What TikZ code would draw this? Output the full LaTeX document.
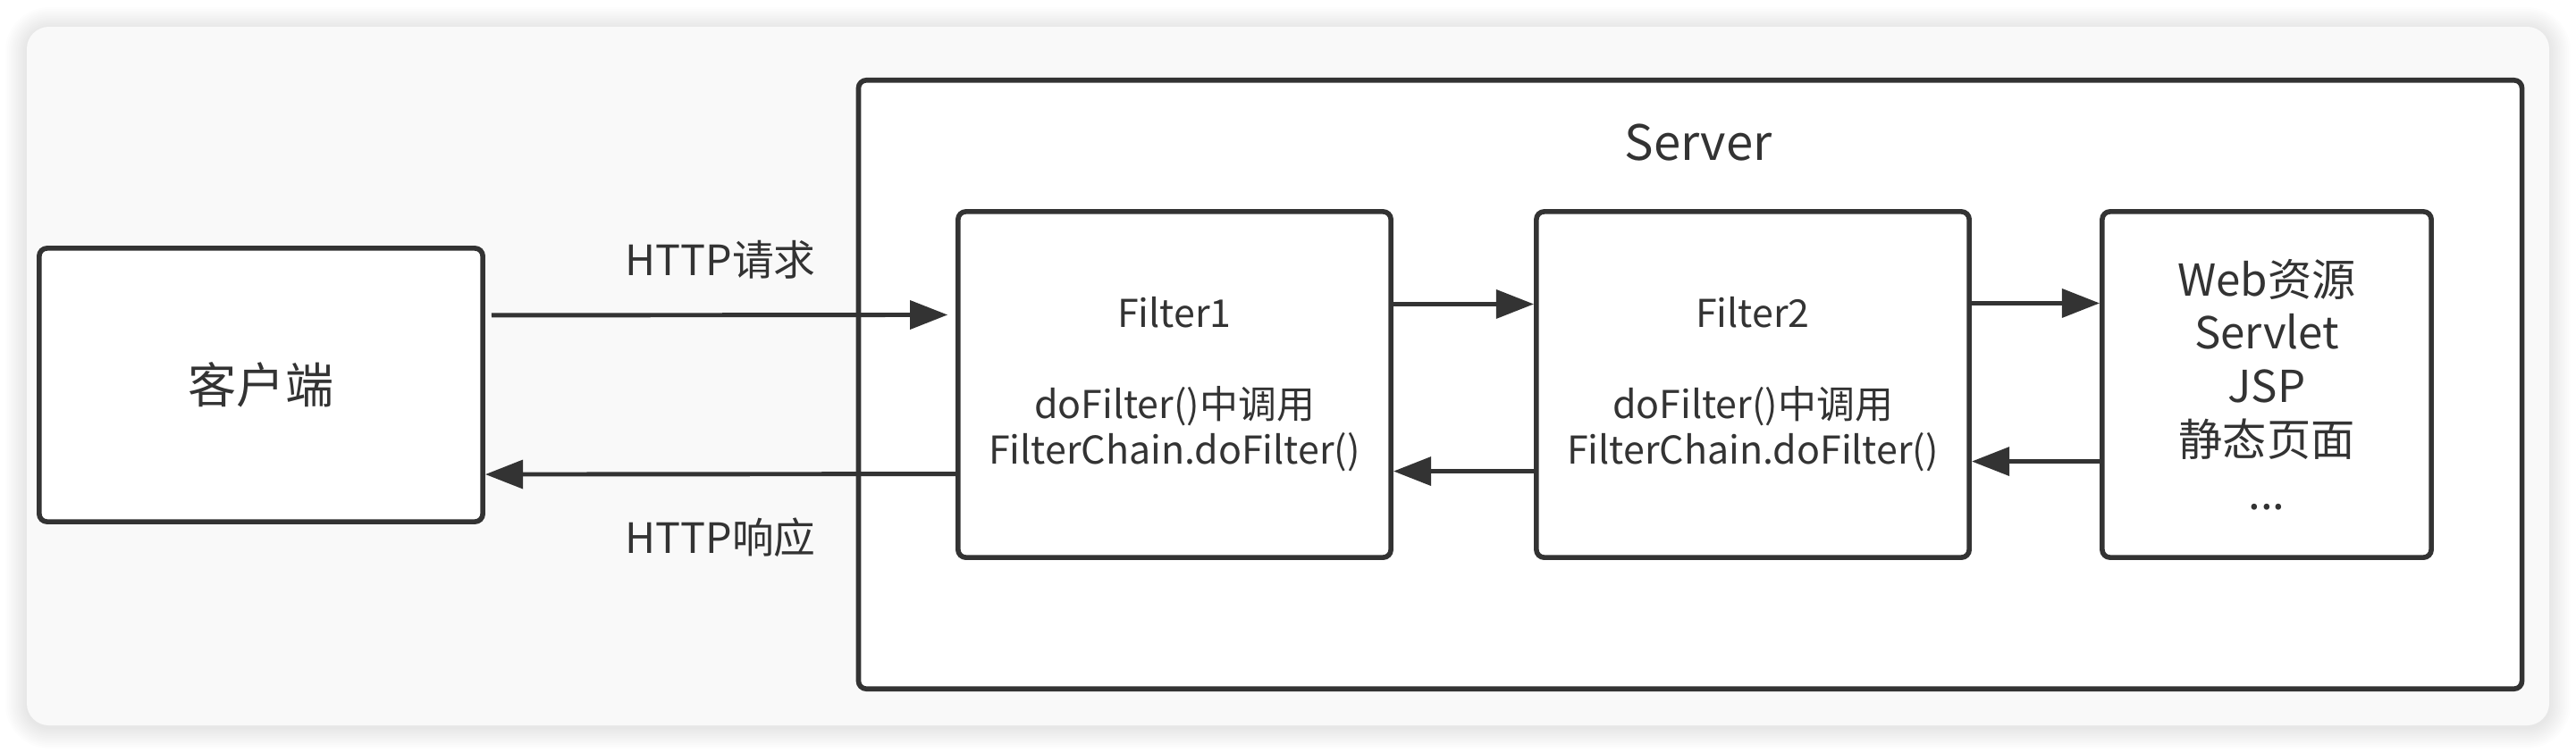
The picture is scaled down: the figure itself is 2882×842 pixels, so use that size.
\documentclass[tikz,border=0pt]{standalone}
\usepackage{fontspec}
\setmainfont{Noto Sans CJK SC}
\usetikzlibrary{arrows.meta}
\definecolor{ink}{HTML}{333333}
\definecolor{cardbg}{HTML}{F9F9F9}
\begin{document}
\begin{tikzpicture}[x=0.01cm,y=-0.01cm,
  box/.style={draw=ink, line width=1.6pt, rounded corners=2.5pt, fill=white, inner sep=0pt, text=ink, align=center},
  arr/.style={draw=ink, line width=1.4pt, -{Triangle[length=12pt,width=9pt]}},
  lbl/.style={text=ink, inner sep=0pt, align=center},
  ftext/.style={font=\fontsize{12.2}{14.5}\selectfont},
  wtext/.style={font=\fontsize{14}{17}\selectfont}]
\useasboundingbox (0,0) rectangle (2882,842);
\fill[white] (0,0) rectangle (2882,842);
% shadow of the card
\foreach \i in {1,...,12}{
  \pgfmathsetmacro\rr{(25+2*\i)*0.2845}
  \fill[black, opacity=0.009, rounded corners=\rr pt] (30-2*\i,32-2*\i) rectangle (2852+2*\i,814+2*\i);
}
\fill[cardbg, rounded corners=7pt] (30,30) rectangle (2852,812);

\node[box, minimum width=4.96cm, minimum height=3.06cm, font=\fontsize{15.4}{18}\selectfont] (client) at (292,431) {客户端};
\node[box, minimum width=18.6cm, minimum height=6.81cm] (server) at (1891,430.5) {};
\node[lbl, font=\fontsize{15.5}{18}\selectfont] (servert) at (1900,160) {Server};

\node[box, ftext, minimum width=4.84cm, minimum height=3.87cm] (filter1) at (1314,430.5)
  {Filter1\\[14.5pt]doFilter()中调用\\FilterChain.doFilter()};
\node[box, ftext, minimum width=4.84cm, minimum height=3.87cm] (filter2) at (1961,430.5)
  {Filter2\\[14.5pt]doFilter()中调用\\FilterChain.doFilter()};
\node[box, wtext, minimum width=3.68cm, minimum height=3.87cm] (web) at (2536,430.5)
  {Web资源\\Servlet\\JSP\\静态页面\\...};

\draw[arr, shorten <=2pt, shorten >=2.5pt] ([yshift=0.78cm]client.east) -- ([yshift=0.78cm]filter1.west)
  node[lbl, midway, above=0.38cm, font=\fontsize{13.3}{16}\selectfont] (req) {HTTP请求};
\draw[arr] ([yshift=-1.0cm]filter1.west) -- ([yshift=-1.0cm]client.east)
  node[lbl, midway, below=0.47cm, font=\fontsize{13.3}{16}\selectfont] (resp) {HTTP响应};
\draw[arr] ([yshift=0.9cm]filter1.east) -- ([yshift=0.9cm]filter2.west);
\draw[arr] ([yshift=-0.97cm]filter2.west) -- ([yshift=-0.97cm]filter1.east);
\draw[arr] ([yshift=0.91cm]filter2.east) -- ([yshift=0.91cm]web.west);
\draw[arr] ([yshift=-0.86cm]web.west) -- ([yshift=-0.86cm]filter2.east);
\end{tikzpicture}
\end{document}
